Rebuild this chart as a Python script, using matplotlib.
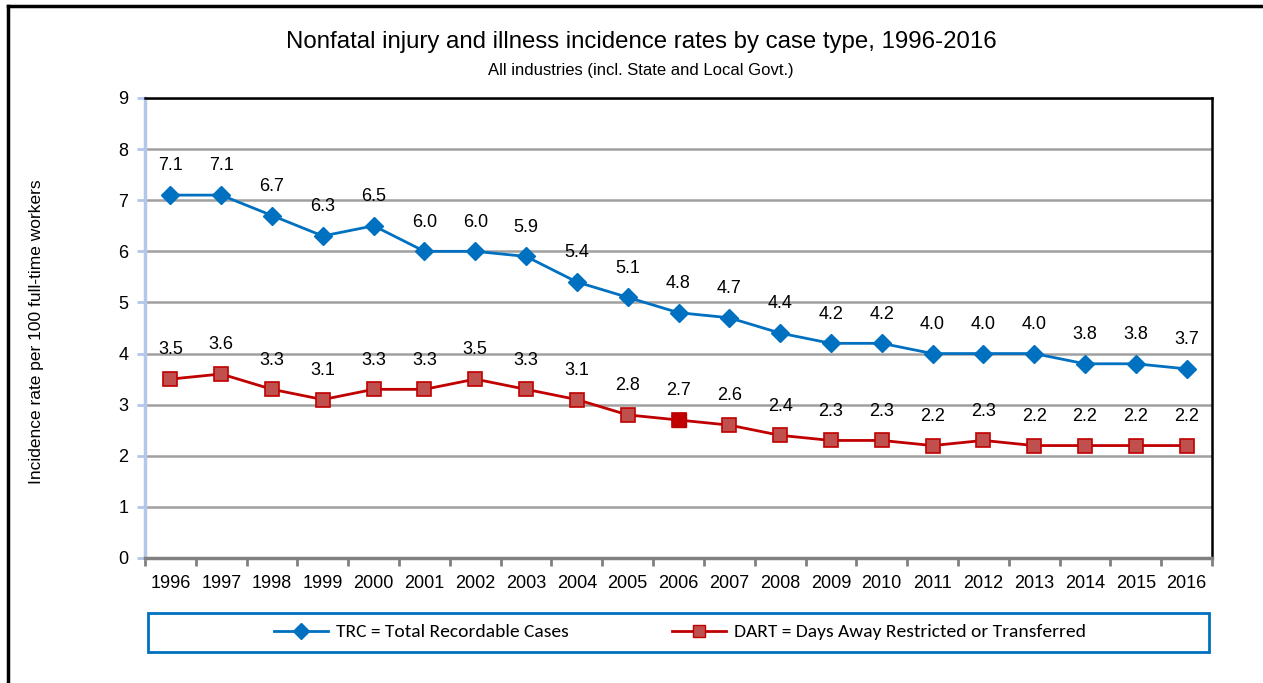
import matplotlib.pyplot as plt
from matplotlib.lines import Line2D
from matplotlib.patches import Rectangle
import numpy as np

years = [str(y) for y in range(1996, 2017)]
trc = [7.1, 7.1, 6.7, 6.3, 6.5, 6.0, 6.0, 5.9, 5.4, 5.1, 4.8, 4.7, 4.4, 4.2, 4.2, 4.0, 4.0, 4.0, 3.8, 3.8, 3.7]
dart = [3.5, 3.6, 3.3, 3.1, 3.3, 3.3, 3.5, 3.3, 3.1, 2.8, 2.7, 2.6, 2.4, 2.3, 2.3, 2.2, 2.3, 2.2, 2.2, 2.2, 2.2]
highlight_year = "2006"

TRC_BLUE = "#0070C0"
DART_EDGE = "#C00000"
DART_FACE = "#C0504D"

plt.rcParams["font.family"] = ["Liberation Sans Narrow", "Liberation Sans", "DejaVu Sans"]

W, H = 1263, 683
fig = plt.figure(figsize=(W / 100, H / 100), dpi=100)
ax = fig.add_axes([145 / W, 1 - 558 / H, (1212 - 145) / W, (558 - 98) / H])

x = np.arange(len(years))
ax.plot(x, trc, color=TRC_BLUE, lw=2.0, marker="D", ms=9, mfc=TRC_BLUE, mec=TRC_BLUE, zorder=4)
ax.plot(x, dart, color=DART_EDGE, lw=2.0, marker="s", ms=10, mfc=DART_FACE, mec=DART_EDGE, mew=1.2, zorder=4)
hi = years.index(highlight_year)
ax.plot(x[hi], dart[hi], marker="s", ms=10, mfc=DART_EDGE, mec=DART_EDGE, zorder=5)

for series in (trc, dart):
    for xi, v in zip(x, series):
        ax.annotate(f"{v:.1f}", (xi, v), xytext=(0, 21), textcoords="offset points",
                    ha="center", va="center", fontsize=13)

ax.set_xlim(-0.5, len(years) - 0.5)
ax.set_ylim(0, 9)
ax.set_yticks(range(0, 10))
ax.set_xticks(x)
ax.set_xticklabels(years, fontsize=13)
ax.set_xticks(np.arange(-0.5, len(years)), minor=True)
ax.tick_params(axis="x", which="major", length=0, pad=12)
ax.tick_params(axis="x", which="minor", length=6, width=2, color="#808080")
ax.tick_params(axis="y", length=6, width=2, color="#B4C7E7", labelsize=13, pad=6)

ax.grid(axis="y", color="#A0A0A0", lw=1.8, zorder=0)
ax.set_axisbelow(True)
for side, col, lw in [("top", "black", 1.8), ("right", "black", 1.8),
                      ("left", "#B4C7E7", 2.5), ("bottom", "#808080", 2.5)]:
    ax.spines[side].set_color(col)
    ax.spines[side].set_linewidth(lw)

fig.text(37 / W, 1 - 332 / H, "Incidence rate per 100 full-time workers",
         rotation=90, ha="center", va="center", fontsize=12.5)
fig.text(641 / W, 1 - 42 / H, "Nonfatal injury and illness incidence rates by case type, 1996-2016",
         ha="center", va="center", fontsize=17.3)
fig.text(641 / W, 1 - 70 / H, "All industries (incl. State and Local Govt.)",
         ha="center", va="center", fontsize=12)

# legend box
fig.add_artist(Rectangle((148 / W, 1 - 652 / H), (1209 - 148) / W, 39 / H, transform=fig.transFigure,
                         fill=False, edgecolor=TRC_BLUE, lw=2))
handles = [
    Line2D([], [], color=TRC_BLUE, lw=2.0, marker="D", ms=8, mfc=TRC_BLUE, mec=TRC_BLUE),
    Line2D([], [], color=DART_EDGE, lw=2.0, marker="s", ms=9, mfc=DART_FACE, mec=DART_EDGE),
]
fig.legend(handles, ["TRC = Total Recordable Cases", "DART = Days Away Restricted or Transferred"],
           loc="center", bbox_to_anchor=(680 / W, 1 - 632 / H),
           ncol=2, frameon=False, handlelength=2.8, handletextpad=0.4, columnspacing=5.3,
           prop={"family": ["Carlito", "Lato", "DejaVu Sans"], "size": 14})

# outer frame lines (left and top)
fig.add_artist(Line2D([8 / W, 8 / W], [0, 1 - 6 / H], color="black", lw=2.5, transform=fig.transFigure))
fig.add_artist(Line2D([8 / W, 1], [1 - 6 / H, 1 - 6 / H], color="black", lw=2.5, transform=fig.transFigure))

fig.savefig("out.png", dpi=100)
